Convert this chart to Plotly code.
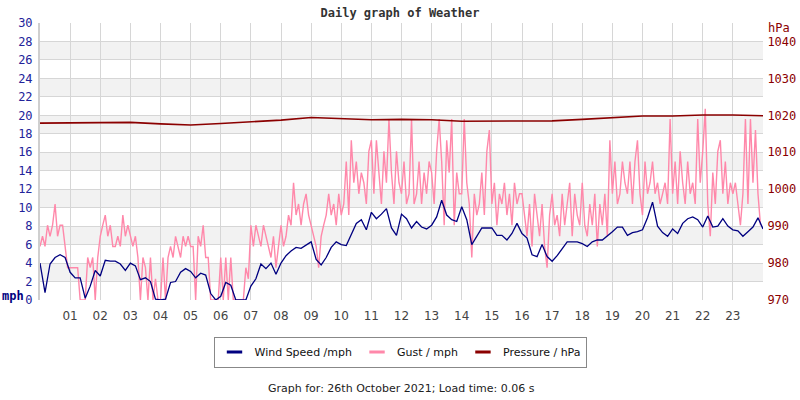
import plotly.graph_objects as go

# ---- data ----
hour_labels = ["%02d" % h for h in range(1, 24)]

# wind speed, mph, every 10 minutes from 00:00 to 24:00
wind_mph = [
    4.0, 0.8, 3.9, 4.6, 4.9, 4.6,
    3.0, 2.4, 2.4, 0.2, 1.5, 3.2,
    2.6, 4.3, 4.2, 4.2, 3.9, 3.2,
    4.0, 3.7, 2.2, 2.4, 2.0, 0.1,
    0.0, 0.1, 1.9, 2.0, 3.0, 3.4,
    3.1, 2.4, 2.9, 2.7, 0.7, 0.0,
    0.4, 1.9, 1.6, 0.0, 0.0, 0.0,
    1.5, 2.3, 3.9, 3.4, 4.0, 2.8,
    4.0, 4.8, 5.3, 5.7, 5.6, 6.0,
    6.3, 4.4, 3.8, 4.6, 5.7, 6.3,
    6.0, 5.9, 7.2, 8.3, 8.7, 7.6,
    9.5, 8.8, 9.3, 9.9, 7.8, 7.0,
    9.3, 8.8, 7.8, 8.5, 7.9, 7.7,
    8.1, 9.0, 10.8, 9.2, 8.7, 8.5,
    10.1, 8.7, 6.0, 6.9, 7.8, 7.8,
    7.8, 7.0, 7.0, 6.5, 7.2, 8.3,
    7.2, 6.7, 4.9, 4.7, 6.0, 4.7,
    4.2, 4.8, 5.6, 6.3, 6.3, 6.3,
    6.1, 5.8, 6.3, 6.5, 6.5, 6.9,
    7.4, 7.9, 7.9, 7.0, 7.3, 7.4,
    7.6, 8.9, 10.6, 8.0, 7.3, 6.9,
    7.7, 7.2, 8.3, 8.8, 9.0, 8.7,
    7.9, 9.1, 7.9, 8.0, 8.8, 8.0,
    7.6, 7.5, 6.9, 7.4, 7.9, 8.9,
    7.7,
]

# gust, mph, every 5 minutes from 00:00 to 23:55
gust_mph = [
    5.8, 6.9, 5.8, 8.1, 6.9, 8.1, 10.4, 6.9, 8.1, 8.1, 5.8, 3.5,
    3.5, 3.5, 3.5, 3.5, 0.0, 0.0, 0.0, 4.6, 3.5, 4.6, 0.0, 4.6,
    6.9, 8.1, 9.2, 6.9, 8.1, 5.8, 5.8, 6.9, 5.8, 9.2, 6.9, 8.1,
    6.9, 5.8, 6.9, 4.6, 0.0, 4.6, 3.5, 0.0, 4.6, 0.0, 2.3, 0.0,
    0.0, 4.6, 0.0, 4.6, 5.8, 4.6, 6.9, 5.8, 4.6, 6.9, 5.8, 6.9,
    5.8, 5.8, 0.0, 6.9, 5.8, 8.1, 4.6, 4.6, 0.0, 0.0, 0.0, 0.0,
    4.6, 0.0, 4.6, 0.0, 4.6, 0.0, 0.0, 0.0, 0.0, 0.0, 3.5, 2.3,
    8.1, 5.8, 8.1, 6.9, 5.8, 8.1, 6.9, 5.8, 4.6, 6.9, 3.5, 5.8,
    8.1, 5.8, 6.9, 9.2, 8.1, 12.7, 9.2, 10.4, 8.1, 10.4, 11.5, 9.2,
    8.1, 6.9, 5.8, 3.5, 6.9, 8.1, 9.2, 11.5, 9.2, 10.4, 8.1, 11.5,
    9.2, 10.4, 15.0, 9.2, 17.3, 12.7, 15.0, 11.5, 13.8, 12.7, 10.4, 16.1,
    17.3, 11.5, 17.3, 13.8, 10.4, 16.1, 12.7, 19.6, 13.8, 10.4, 16.1, 12.7,
    11.5, 15.0, 10.4, 11.5, 19.6, 10.4, 11.5, 15.0, 10.4, 13.8, 11.5, 15.0,
    13.8, 10.4, 16.1, 19.6, 15.0, 8.1, 17.3, 13.8, 19.6, 8.1, 13.8, 11.5,
    11.5, 19.6, 12.7, 10.4, 4.6, 11.5, 9.2, 10.4, 13.8, 9.2, 16.1, 18.4,
    10.4, 12.7, 8.1, 11.5, 10.4, 12.7, 9.2, 11.5, 8.1, 12.7, 10.4, 11.5,
    11.5, 9.2, 6.9, 10.4, 5.8, 11.5, 9.2, 6.9, 10.4, 5.8, 3.5, 9.2,
    11.5, 8.1, 9.2, 6.9, 11.5, 8.1, 10.4, 12.7, 6.9, 11.5, 9.2, 8.1,
    12.7, 8.1, 6.9, 10.4, 8.1, 11.5, 5.8, 10.4, 8.1, 11.5, 6.9, 17.3,
    11.5, 15.0, 10.4, 11.5, 15.0, 12.7, 11.5, 15.0, 10.4, 15.0, 17.3, 11.5,
    9.2, 15.0, 11.5, 12.7, 15.0, 11.5, 12.7, 10.4, 11.5, 12.7, 10.4, 19.6,
    11.5, 15.0, 10.4, 16.1, 12.7, 10.4, 15.0, 11.5, 12.7, 10.4, 19.6, 12.7,
    16.1, 20.7, 10.4, 6.9, 13.8, 10.4, 16.1, 17.3, 11.5, 15.0, 10.4, 12.7,
    11.5, 12.7, 10.4, 8.1, 11.5, 19.6, 10.4, 19.6, 12.7, 18.4, 11.5, 8.1,
]

# pressure, hPa, hourly from 00:00 to 24:00
pressure_hpa = [
    1017.9, 1017.9, 1018.1, 1018.1, 1017.7, 1017.4, 1017.8, 1018.2,
    1018.7, 1019.4, 1019.2, 1018.8, 1018.9, 1018.8, 1018.4, 1018.4,
    1018.4, 1018.5, 1018.9, 1019.3, 1019.8, 1019.8, 1020.1, 1020.1,
    1019.9,
]

wind_t = [i * 10 / 60 for i in range(len(wind_mph))]
gust_t = [i * 5 / 60 for i in range(len(gust_mph))]
pres_t = [float(i) for i in range(len(pressure_hpa))]

WIND_C = "#000080"
GUST_C = "#ff88aa"
PRES_C = "#8b0000"
LEFT_C = "#22229a"

fig = go.Figure()
fig.add_trace(go.Scatter(x=gust_t, y=gust_mph, mode="lines",
                         line=dict(color=GUST_C, width=1.4), showlegend=False, hoverinfo="skip"))
fig.add_trace(go.Scatter(x=wind_t, y=wind_mph, mode="lines",
                         line=dict(color=WIND_C, width=1.3), showlegend=False, hoverinfo="skip"))
fig.add_trace(go.Scatter(x=pres_t, y=pressure_hpa, mode="lines", yaxis="y2",
                         line=dict(color=PRES_C, width=1.6), showlegend=False, hoverinfo="skip"))

# legend-only entries with short line samples
for name, col in [("Wind Speed /mph", WIND_C), ("Gust / mph", GUST_C), ("Pressure / hPa", PRES_C)]:
    fig.add_trace(go.Scatter(x=[None], y=[None], mode="markers", name=name,
                             marker=dict(symbol="line-ew-open", size=11, color=col,
                                         line=dict(color=col, width=3))))

shapes = []
for i in range(7):
    shapes.append(dict(type="rect", xref="paper", x0=0, x1=1, yref="y",
                       y0=2 + 4 * i, y1=4 + 4 * i, fillcolor="#f2f2f2",
                       line=dict(width=0), layer="below"))

fig.update_layout(
    width=800, height=400,
    margin=dict(l=40, r=37, t=23, b=100, autoexpand=False),
    paper_bgcolor="white", plot_bgcolor="white",
    shapes=shapes,
    title=dict(text="<b>Daily graph of Weather</b>", x=0.5, xref="container", xanchor="center",
               y=1 - 13 / 400, yref="container", yanchor="middle",
               font=dict(family="DejaVu Sans Mono", size=12, color="#333333")),
    xaxis=dict(range=[0, 24], tickmode="array", automargin=False,
               tickvals=list(range(0, 25)), ticktext=[""] + hour_labels + [""],
               showgrid=True, gridcolor="#d6d6d6", gridwidth=1, zeroline=False,
               ticks="outside", ticklen=5, tickcolor="rgba(0,0,0,0)",
               tickfont=dict(family="DejaVu Sans", size=12, color="#444444")),
    yaxis=dict(range=[0, 30], dtick=2, tick0=0, showgrid=True, gridcolor="#d6d6d6",
               automargin=False,
               zeroline=False, showline=True, linecolor="#cfcfcf", linewidth=2,
               ticks="outside", ticklen=3, tickcolor="rgba(0,0,0,0)",
               tickfont=dict(family="DejaVu Sans Mono", size=12, color=LEFT_C)),
    yaxis2=dict(range=[970, 1045], overlaying="y", side="right", tickmode="array",
                automargin=False,
                tickvals=list(range(970, 1041, 10)), showgrid=False, zeroline=False,
                ticks="outside", ticklen=1, tickcolor="rgba(0,0,0,0)",
                tickfont=dict(family="DejaVu Sans Mono", size=12, color=PRES_C)),
    legend=dict(orientation="h", xref="container", x=0.5, xanchor="center",
                yref="container", y=1 - 352 / 400, yanchor="middle",
                bordercolor="#888888", borderwidth=1, bgcolor="white",
                font=dict(family="DejaVu Sans", size=11, color="#111111"),
                itemwidth=30, tracegroupgap=0),
    annotations=[
        dict(text="<b>mph</b>", xref="paper", x=-40 / 723, xanchor="left", yref="y", y=0.45,
             yanchor="middle", showarrow=False,
             font=dict(family="DejaVu Sans Mono", size=12, color=WIND_C)),
        dict(text="hPa", xref="paper", x=1.004, xanchor="left", yref="paper", y=(300 - 28) / 277,
             yanchor="middle", showarrow=False,
             font=dict(family="DejaVu Sans Mono", size=12, color=PRES_C)),
        dict(text="Graph for: 26th October 2021; Load time: 0.06 s", xref="paper", x=0.5,
             xanchor="center", yref="paper", y=(300 - 388) / 277, yanchor="middle",
             showarrow=False, font=dict(family="DejaVu Sans", size=11, color="#222222")),
    ],
)

fig.write_html("out.html")
